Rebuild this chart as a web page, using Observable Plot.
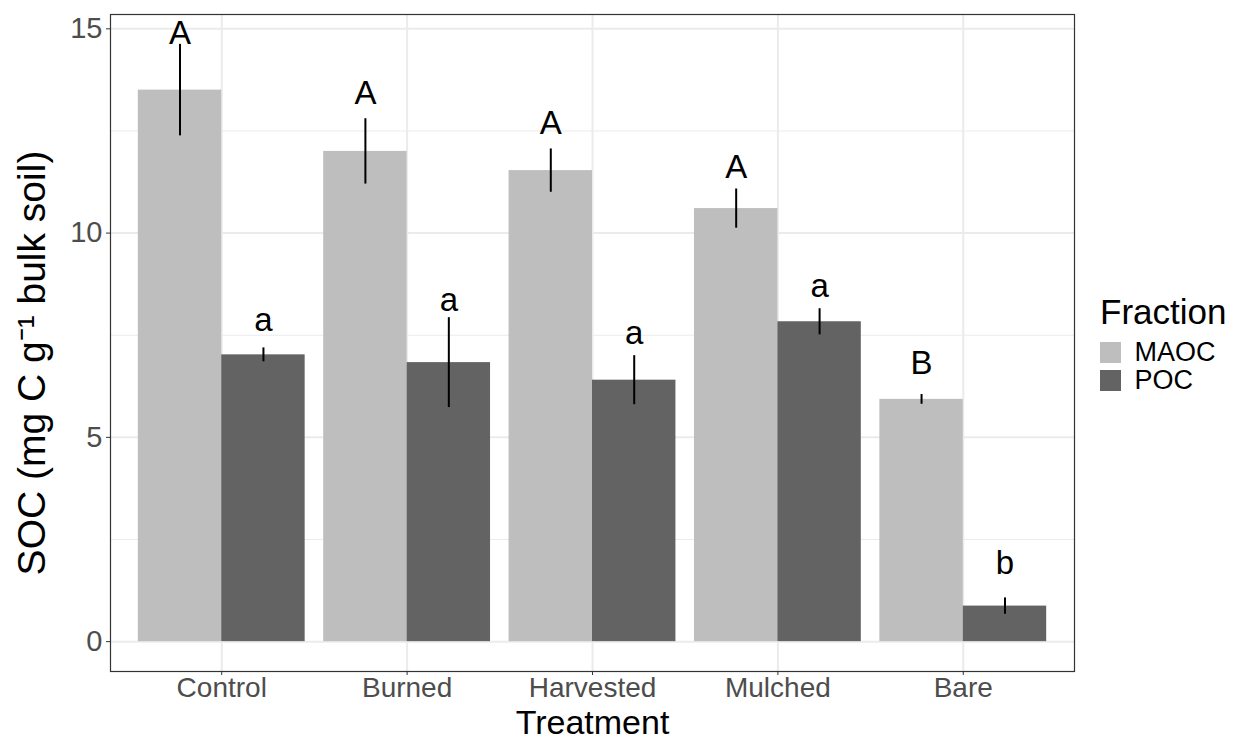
<!DOCTYPE html>
<html>
<head>
<meta charset="utf-8">
<script src="https://cdn.jsdelivr.net/npm/d3@7"></script>
<script src="https://cdn.jsdelivr.net/npm/@observablehq/plot@0.6"></script>
<style>
  body { margin: 0; background: #fff; font-family: "Liberation Sans", Arial, Helvetica, sans-serif; }
  #wrap { position: relative; width: 1239px; height: 740px; overflow: hidden; }
  #chart { position: absolute; left: 0; top: 0; }
  #legend { position: absolute; left: 1100px; top: 294px; }
  #legend .ltitle { font-size: 35px; color: #000; line-height: 36px; margin-bottom: 8px; }
  #legend div, #legend span { font-family: "Liberation Sans", Arial, sans-serif !important; font-size: 27px !important; color: #000 !important; }
  #legend .ltitle { font-size: 35px !important; }
  #legend div[class$="-swatch"] { height: 28px; line-height: 28px; padding-bottom: 0 !important; }
</style>
</head>
<body>
<div id="wrap">
  <div id="chart"></div>
  <div id="legend"><div class="ltitle">Fraction</div></div>
</div>
<script>
// ---- data ----
const treatments = ["Control", "Burned", "Harvested", "Mulched", "Bare"];
const fractions = ["MAOC", "POC"];
const maocMean = [13.50, 12.00, 11.53, 10.60, 5.93];
const maocSE   = [1.12, 0.80, 0.53, 0.48, 0.12];
const pocMean  = [7.02, 6.83, 6.40, 7.83, 0.87];
const pocSE    = [0.17, 1.10, 0.60, 0.32, 0.20];
const maocLetters = ["A", "A", "A", "A", "B"];
const pocLetters  = ["a", "a", "a", "a", "b"];
const maocLabelY  = [14.62, 13.15, 12.42, 11.35, 6.55];
const pocLabelY   = [7.61, 8.09, 7.28, 8.44, 1.66];
const yTicks = [0, 5, 10, 15];
const yMinor = [2.5, 7.5, 12.5];
const fillColors = ["#BEBEBE", "#636363"];

// ---- table ----
const rows = [];
treatments.forEach((t, i) => {
  rows.push({treatment: t, i, fraction: "MAOC", mean: maocMean[i], se: maocSE[i], letter: maocLetters[i], labelY: maocLabelY[i]});
  rows.push({treatment: t, i, fraction: "POC", mean: pocMean[i], se: pocSE[i], letter: pocLetters[i], labelY: pocLabelY[i]});
});

// dodge geometry (like ggplot: width 0.9, two groups)
const half = 0.9 / 2;
const x1 = d => d.fraction === "MAOC" ? d.i - half : d.i;
const x2 = d => d.fraction === "MAOC" ? d.i : d.i + half;
const xc = d => d.fraction === "MAOC" ? d.i - half / 2 : d.i + half / 2;

// ggplot-like 5% expansion
const yMax = d3.max(rows, d => Math.max(d.mean + d.se, d.labelY));
const yPad = 0.05 * yMax;
const idx = treatments.map((t, i) => i);

const font = '"Liberation Sans", Arial, sans-serif';
const plot = Plot.plot({
  width: 1080,
  height: 740,
  marginLeft: 110,
  marginRight: 6,
  marginTop: 14,
  marginBottom: 69,
  style: {fontFamily: font, background: "white"},
  x: {type: "linear", domain: [-0.6, treatments.length - 1 + 0.6]},
  y: {domain: [-yPad, yMax + yPad]},
  color: {domain: fractions, range: fillColors},
  marks: [
    Plot.ruleY(yMinor, {stroke: "#EBEBEB", strokeWidth: 1}),
    Plot.ruleY(yTicks, {stroke: "#EBEBEB", strokeWidth: 2}),
    Plot.ruleX(idx, {stroke: "#EBEBEB", strokeWidth: 2}),
    Plot.rectY(rows, {x1, x2, y1: 0, y2: "mean", fill: "fraction"}),
    Plot.ruleX(rows, {x: xc, y1: d => d.mean - d.se, y2: d => d.mean + d.se, stroke: "#000", strokeWidth: 2}),
    Plot.text(rows, {x: xc, y: "labelY", text: "letter", lineAnchor: "bottom", fontSize: 33, fill: "#000"}),
    Plot.axisY({ticks: yTicks, tickSize: 4, tickPadding: 4, fontSize: 29, stroke: "#333333", fill: "#4D4D4D", label: null, tickFormat: d => String(d)}),
    Plot.axisX({ticks: idx, tickSize: 4, tickPadding: 2, fontSize: 28, stroke: "#333333", fill: "#4D4D4D", label: null, tickFormat: i => treatments[i]}),
    Plot.frame({stroke: "#333333", strokeWidth: 1.2}),
    Plot.text(["Treatment"], {text: d => d, frameAnchor: "bottom", textAnchor: "middle", lineAnchor: "bottom", dy: 62, fontSize: 34, fill: "#000"}),
    Plot.text(["SOC (mg C g\u207B\u00B9 bulk soil)"], {text: d => d, frameAnchor: "left", textAnchor: "middle", lineAnchor: "middle", rotate: -90, dx: -78, dy: 20, fontSize: 39, fill: "#000"})
  ]
});
document.getElementById("chart").appendChild(plot);

const legend = plot.legend("color", {legend: "swatches", columns: 1, swatchSize: 21});
document.getElementById("legend").appendChild(legend);
</script>
</body>
</html>
